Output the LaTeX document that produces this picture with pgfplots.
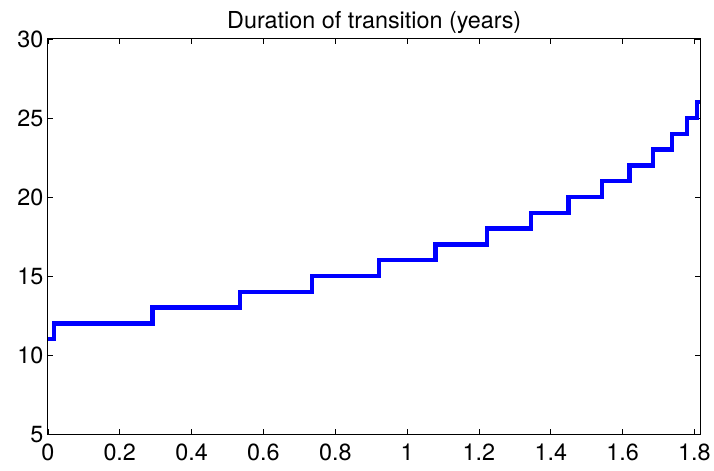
\documentclass[border=0pt]{standalone}
\usepackage{fontspec}
\setmainfont{TeX Gyre Heros}
\usepackage{pgfplots}
\pgfplotsset{compat=1.18}

\begin{document}
\begin{tikzpicture}
\begin{axis}[
    scale only axis,
    width=654bp, height=396bp,
    xmin=0, xmax=1.817,
    ymin=5, ymax=30,
    xtick={0,0.2,0.4,0.6,0.8,1,1.2,1.4,1.6,1.8},
    ytick={5,10,15,20,25,30},
    xticklabels={0,0.2,0.4,0.6,0.8,1,1.2,1.4,1.6,1.8},
    tick align=inside,
    major tick length=5.5bp,
    axis line style={line width=0.9bp},
    every tick/.style={black, line width=0.8bp},
    tick label style={font=\fontsize{23.5}{27}\selectfont},
    /pgf/number format/assume math mode=true,
    xticklabel style={yshift=-6bp},
    yticklabel style={xshift=-1bp},
    title={Duration of transition (years)},
    title style={font=\fontsize{23.5}{27}\selectfont, yshift=-4bp},
    clip=false,
]
% duration steps
\addplot[const plot, color=blue, line width=4.3bp] coordinates {
(0,11) (0.017,12) (0.291,13) (0.535,14) (0.735,15) (0.921,16)
(1.079,17) (1.223,18) (1.344,19) (1.449,20) (1.543,21) (1.619,22)
(1.684,23) (1.738,24) (1.779,25) (1.808,26) (1.816,26)
};
\end{axis}
\path ([shift={(-48bp,-36bp)}]current axis.south west) rectangle ([shift={(12bp,39bp)}]current axis.north east);
\end{tikzpicture}
\end{document}
